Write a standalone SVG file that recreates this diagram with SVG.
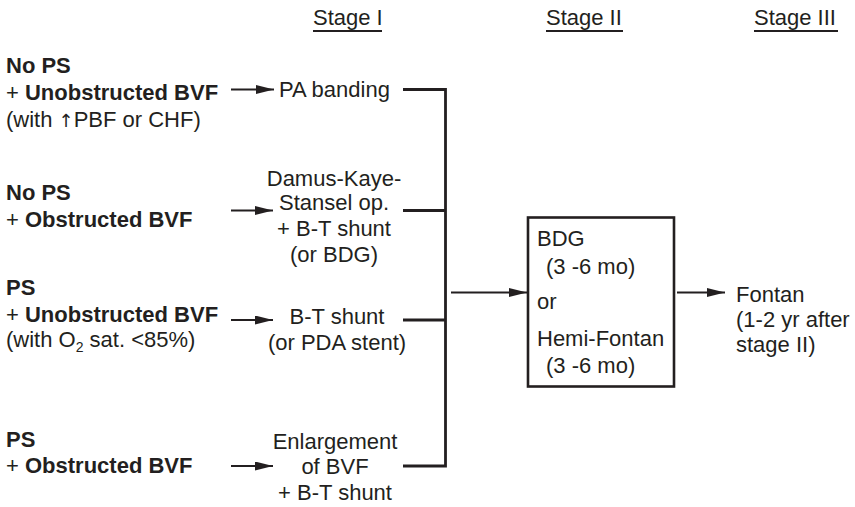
<svg xmlns="http://www.w3.org/2000/svg" width="855" height="507" viewBox="0 0 855 507">
<defs>
<style>
text{font-family:"Liberation Sans",Arial,sans-serif;font-size:22px;fill:#231f20}
.b{font-weight:bold}
.m{text-anchor:middle}
.sym{font-family:"DejaVu Sans","Liberation Sans",sans-serif;font-size:18px}
.arr{stroke:#231f20;stroke-width:2;fill:none;marker-end:url(#ah)}
.ln{stroke:#231f20;stroke-width:2.8;fill:none}
.ul{stroke:#231f20;stroke-width:2}
</style>
<marker id="ah" viewBox="0 0 18 9" refX="18" refY="4.5" markerWidth="18" markerHeight="9" markerUnits="userSpaceOnUse" orient="auto">
<path d="M0,0 L18,4.5 L0,9 Z" fill="#231f20"/>
</marker>
</defs>
<rect width="855" height="507" fill="#fff"/>
<g id="headers">
<text x="313" y="25">Stage I</text>
<line class="ul" x1="313" y1="31" x2="382" y2="31"/>
<text x="546" y="25">Stage II</text>
<line class="ul" x1="546" y1="31" x2="623" y2="31"/>
<text x="754" y="25">Stage III</text>
<line class="ul" x1="754" y1="31" x2="838" y2="31"/>
</g>
<g id="cond1">
<text x="6" y="73" class="b">No PS</text>
<text x="6" y="100">+ <tspan class="b">Unobstructed BVF</tspan></text>
<text x="6" y="127">(with <tspan class="sym">↑</tspan>PBF or CHF)</text>
</g>
<g id="cond2">
<text x="6" y="200" class="b">No PS</text>
<text x="6" y="227">+ <tspan class="b">Obstructed BVF</tspan></text>
</g>
<g id="cond3">
<text x="6" y="295" class="b">PS</text>
<text x="6" y="322">+ <tspan class="b">Unobstructed BVF</tspan></text>
<text x="6" y="347">(with O<tspan font-size="14" dy="5">2</tspan><tspan dy="-5"> sat. &lt;85%)</tspan></text>
</g>
<g id="cond4">
<text x="6" y="446.5" class="b">PS</text>
<text x="6" y="472.5">+ <tspan class="b">Obstructed BVF</tspan></text>
</g>
<g id="s1a">
<text x="279" y="97">PA banding</text>
</g>
<g id="s1b">
<text x="334" y="186" class="m">Damus-Kaye-</text>
<text x="334" y="210" class="m">Stansel op.</text>
<text x="334" y="236" class="m">+ B-T shunt</text>
<text x="334" y="261.5" class="m">(or BDG)</text>
</g>
<g id="s1c">
<text x="337" y="324" class="m">B-T shunt</text>
<text x="337" y="350" class="m">(or PDA stent)</text>
</g>
<g id="s1d">
<text x="335" y="449" class="m">Enlargement</text>
<text x="335" y="474" class="m">of BVF</text>
<text x="335" y="500" class="m">+ B-T shunt</text>
</g>
<g id="s2">
<rect x="528" y="217.5" width="146" height="169" fill="none" stroke="#231f20" stroke-width="2.6"/>
<text x="537" y="246">BDG</text>
<text x="546" y="274">(3 -6 mo)</text>
<text x="537" y="309">or</text>
<text x="537" y="346">Hemi-Fontan</text>
<text x="546" y="373">(3 -6 mo)</text>
</g>
<g id="s3">
<text x="736" y="301.5">Fontan</text>
<text x="736" y="326.5">(1-2 yr after</text>
<text x="736" y="351.5">stage II)</text>
</g>
<g id="connectors">
<line class="arr" x1="231" y1="89.5" x2="274" y2="89.5"/>
<line class="arr" x1="231" y1="210.5" x2="273" y2="210.5"/>
<line class="arr" x1="231" y1="320" x2="273" y2="320"/>
<line class="arr" x1="231" y1="466" x2="273" y2="466"/>
<polyline class="ln" points="403,89.5 445.5,89.5 445.5,466 403,466"/>
<line class="ln" x1="403" y1="210.5" x2="445.5" y2="210.5"/>
<line class="ln" x1="403" y1="320" x2="445.5" y2="320"/>
<line class="arr" x1="451" y1="292.5" x2="527" y2="292.5"/>
<line class="arr" x1="677" y1="292.5" x2="725" y2="292.5"/>
</g>
</svg>
